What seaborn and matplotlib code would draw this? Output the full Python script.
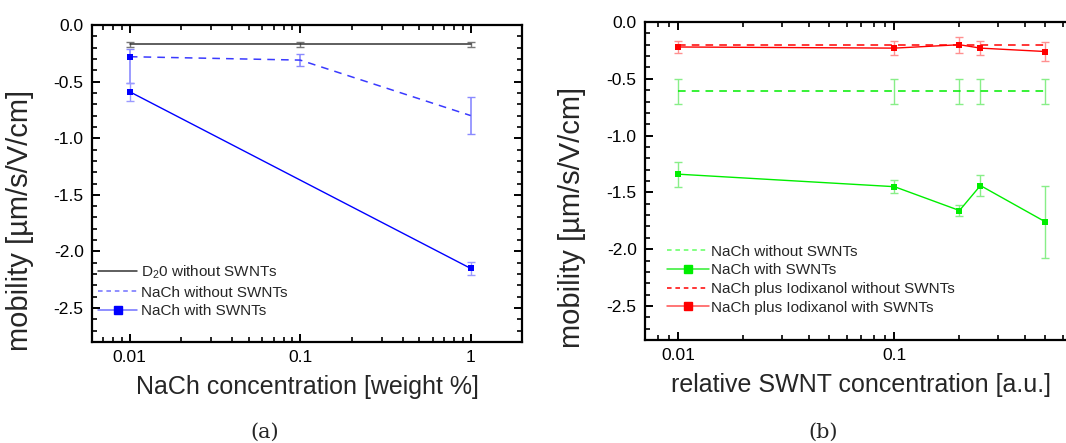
import numpy as np
import pandas as pd
import matplotlib
matplotlib.use("Agg")
import matplotlib.pyplot as plt
import matplotlib.ticker as mticker
from matplotlib.lines import Line2D
import seaborn as sns

# ---------------- data ----------------
# panel (a)
conc_a = [0.01, 0.1, 1.0]
d2o_no = [-0.17, -0.17, -0.17]
d2o_no_err = [0.02, 0.02, 0.02]
nach_no_a = [-0.28, -0.31, -0.80]
nach_no_a_err_lo = [0.23, 0.05, 0.16]
nach_no_a_err_hi = [0.07, 0.05, 0.16]
conc_a_with = [0.01, 1.0]
nach_with_a_vals = [-0.59, -2.15]
nach_with_a_errs = [0.08, 0.06]

# panel (b)
conc_b = [0.01, 0.1, 0.2, 0.25, 0.5]
nach_no_b = [-0.61, -0.61, -0.61, -0.61, -0.61]
nach_no_b_err = [0.11, 0.11, 0.11, 0.11, 0.11]
nach_with_b = [-1.34, -1.45, -1.66, -1.44, -1.76]
nach_with_b_err = [0.11, 0.06, 0.05, 0.09, 0.32]
iod_no_b = [-0.20, -0.20, -0.20, -0.20, -0.20]
iod_with_b = [-0.22, -0.23, -0.20, -0.23, -0.26]
iod_with_b_err = [0.05, 0.06, 0.07, 0.06, 0.08]

xlabel_a = "NaCh concentration [weight %]"
xlabel_b = "relative SWNT concentration [a.u.]"
ylabel = "mobility [\u00b5m/s/V/cm]"
legend_a = ["D$_2$0 without SWNTs", "NaCh without SWNTs", "NaCh with SWNTs"]
legend_b = ["NaCh without SWNTs", "NaCh with SWNTs",
            "NaCh plus Iodixanol without SWNTs", "NaCh plus Iodixanol with SWNTs"]
xticks_a = [0.01, 0.1, 1]
xticklabels_a = ["0.01", "0.1", "1"]
xticks_b = [0.01, 0.1]
xticklabels_b = ["0.01", "0.1"]
yticks = [0.0, -0.5, -1.0, -1.5, -2.0, -2.5]
yticklabels = ["0.0", "-0.5", "-1.0", "-1.5", "-2.0", "-2.5"]

# ---------------- style ----------------
sns.set_theme(style="ticks")
plt.rcParams["font.family"] = ["Liberation Sans", "DejaVu Sans"]
plt.rcParams["mathtext.fontset"] = "custom"
plt.rcParams["mathtext.rm"] = "Liberation Sans"
plt.rcParams["mathtext.it"] = "Liberation Sans:italic"
plt.rcParams["axes.unicode_minus"] = False

W, H = 1066, 443
fig = plt.figure(figsize=(W / 100, H / 100), dpi=100)
ax1 = fig.add_axes([92 / W, (H - 342) / H, 430 / W, 317 / H])
ax2 = fig.add_axes([645 / W, (H - 340) / H, 432 / W, 318 / H])

BLUE = "#0000ff"
BLUE_D = "#3a3aff"
GREEN = "#00ee00"
RED = "#ff0000"
ms = 4.8
cs = 2.7

# ---- panel a ----
dfa = pd.DataFrame({"x": conc_a, "d2o": d2o_no, "nach": nach_no_a})
dfa2 = pd.DataFrame({"x": conc_a_with, "y": nach_with_a_vals})

ax1.errorbar(conc_a, d2o_no, yerr=d2o_no_err, fmt="none", ecolor="#777777",
             elinewidth=1, capsize=cs, capthick=1, zorder=2)
ax1.errorbar(conc_a, nach_no_a, yerr=[nach_no_a_err_lo, nach_no_a_err_hi], fmt="none",
             ecolor="#8a8aff", elinewidth=1.2, capsize=cs, capthick=1, zorder=2)
ax1.errorbar(conc_a_with, nach_with_a_vals, yerr=nach_with_a_errs, fmt="none",
             ecolor="#9a9aff", elinewidth=1, capsize=cs, capthick=1, zorder=2)
sns.lineplot(data=dfa, x="x", y="d2o", ax=ax1, color="#333333", lw=1.1, zorder=3)
sns.lineplot(data=dfa, x="x", y="nach", ax=ax1, color=BLUE_D, lw=1.1, zorder=3,
             linestyle=(0, (5, 4)))
sns.lineplot(data=dfa2, x="x", y="y", ax=ax1, color=BLUE, lw=1.0, zorder=3)
ax1.plot([conc_a_with[0]], [nach_no_a[0]], ls="none", marker="s", ms=ms, color=BLUE,
         mew=0, zorder=4)
sns.scatterplot(data=dfa2, x="x", y="y", ax=ax1, marker="s", s=ms ** 2, color=BLUE,
                edgecolor=BLUE, linewidth=0, zorder=4)

h_a = [Line2D([], [], color="#333333", lw=1.1),
       Line2D([], [], color="#7070ff", lw=1.1, ls=(0, (3, 2.5))),
       Line2D([], [], color="#7070ff", lw=1.1, marker="s", ms=ms + 0.6, mfc=BLUE, mec=BLUE)]
ax1.legend(h_a, legend_a, loc="lower left", bbox_to_anchor=(0.015, 0.075), frameon=False,
           fontsize=11, handlelength=2.5, handletextpad=0.3, labelspacing=0.3,
           borderpad=0, borderaxespad=0)

ax1.set_xscale("log")
ax1.set_xlim(0.006, 2.0)
ax1.set_xticks(xticks_a)
ax1.set_xticklabels(xticklabels_a)

# ---- panel b ----
dfb = pd.DataFrame({"x": conc_b, "nno": nach_no_b, "nwith": nach_with_b,
                    "ino": iod_no_b, "iwith": iod_with_b})
ax2.errorbar(conc_b, nach_no_b, yerr=nach_no_b_err, fmt="none", ecolor="#88ee88",
             elinewidth=1, capsize=cs, capthick=1, zorder=2)
ax2.errorbar(conc_b, nach_with_b, yerr=nach_with_b_err, fmt="none", ecolor="#88ee88",
             elinewidth=1, capsize=cs, capthick=1, zorder=2)
ax2.errorbar(conc_b, iod_with_b, yerr=iod_with_b_err, fmt="none", ecolor="#ff9090",
             elinewidth=1, capsize=cs, capthick=1, zorder=2)
sns.lineplot(data=dfb, x="x", y="nno", ax=ax2, color=GREEN, lw=1.1, linestyle=(0, (5, 4)), zorder=3)
sns.lineplot(data=dfb, x="x", y="nwith", ax=ax2, color=GREEN, lw=1.0, zorder=3,
             marker="s", markersize=ms, markeredgewidth=0)
sns.lineplot(data=dfb, x="x", y="ino", ax=ax2, color=RED, lw=1.1, linestyle=(0, (5, 4)), zorder=3)
sns.lineplot(data=dfb, x="x", y="iwith", ax=ax2, color=RED, lw=1.0, zorder=3,
             marker="s", markersize=ms, markeredgewidth=0)

h_b = [Line2D([], [], color="#60ff60", lw=1.1, ls=(0, (3, 2.5))),
       Line2D([], [], color="#30ee30", lw=1.1, marker="s", ms=ms + 0.6, mfc=GREEN, mec=GREEN),
       Line2D([], [], color=RED, lw=1.1, ls=(0, (3, 2.5))),
       Line2D([], [], color="#ff5050", lw=1.1, marker="s", ms=ms + 0.6, mfc=RED, mec=RED)]
ax2.legend(h_b, legend_b, loc="lower left", bbox_to_anchor=(0.05, 0.08), frameon=False,
           fontsize=11, handlelength=2.75, handletextpad=0.15, labelspacing=0.3,
           borderpad=0, borderaxespad=0)

ax2.set_xscale("log")
ax2.set_xlim(0.007, 0.7)
ax2.set_xticks(xticks_b)
ax2.set_xticklabels(xticklabels_b)

# ---- common axis styling ----
for ax, xl, lx in ((ax1, xlabel_a, -0.135), (ax2, xlabel_b, -0.137)):
    ax.set_ylim(-2.8, 0.0)
    ax.set_yticks(yticks)
    ax.set_yticklabels(yticklabels)
    ax.yaxis.set_minor_locator(mticker.MultipleLocator(0.1))
    ax.xaxis.set_minor_locator(mticker.LogLocator(base=10, subs=np.arange(2, 10)))
    ax.xaxis.set_minor_formatter(mticker.NullFormatter())
    ax.tick_params(which="both", direction="in", top=True, right=True, colors="black",
                   labelsize=12.5)
    ax.tick_params(which="major", length=6, width=1.4, pad=6)
    ax.tick_params(which="minor", length=3.5, width=1.2)
    for s in ax.spines.values():
        s.set_linewidth(1.6)
        s.set_color("black")
        s.set_visible(True)
    ax.set_xlabel(xl, fontsize=18, labelpad=7)
    ax.set_ylabel(ylabel, fontsize=21)
    ax.yaxis.set_label_coords(lx, 0.385)
    ax.set_facecolor("white")

fig.text(265 / W, 1 - 432 / H, "(a)", ha="center", va="center", fontsize=15,
         family=["DejaVu Serif"])
fig.text(823 / W, 1 - 432 / H, "(b)", ha="center", va="center", fontsize=15,
         family=["DejaVu Serif"])

fig.savefig("out.png", dpi=100, facecolor="white")
